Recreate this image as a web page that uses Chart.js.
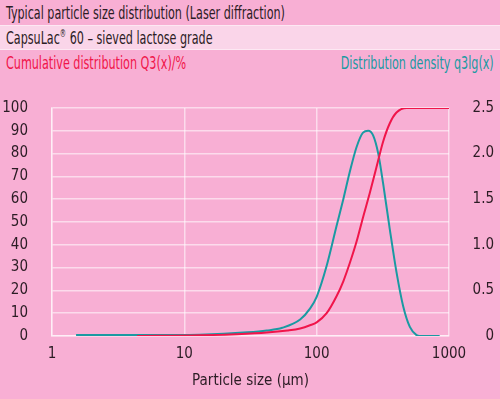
<!DOCTYPE html>
<html>
<head>
<meta charset="utf-8">
<script src="https://cdn.jsdelivr.net/npm/chart.js@4"></script>
<style>
  body { margin: 0; background: #f8afd4; width: 500px; height: 399px; overflow: hidden;
         font-family: "DejaVu Sans Condensed", "Liberation Sans Narrow", sans-serif; color: #2b1c24; }
  .row { position: absolute; left: 0; width: 500px; box-sizing: border-box; padding-left: 6px; font-size: 18px; white-space: nowrap; }
  .row span { display: inline-block; transform: scaleX(0.69); transform-origin: left center; }
  #r1 { top: 0; height: 25px; line-height: 26px; }
  #r2 { top: 25px; height: 25px; line-height: 24px; background: #fad5e9; border-top: 1px solid #fde8f3; border-bottom: 1px solid #fde8f3; }
  #r3 { top: 50px; height: 25px; line-height: 26px; }
  #r3 .l { color: #f0154a; }
  #r3 .r { color: #1a9aa2; position: absolute; right: 6px; top: 0; transform-origin: right center; }
  sup { font-size: 10px; vertical-align: 7px; line-height: 0; }
  #chart { position: absolute; left: 0; top: 75px; }
</style>
</head>
<body>
<div class="row" id="r1"><span>Typical particle size distribution (Laser diffraction)</span></div>
<div class="row" id="r2"><span>CapsuLac<sup>®</sup> 60 – sieved lactose grade</span></div>
<div class="row" id="r3"><span class="l">Cumulative distribution Q3(x)/%</span><span class="r">Distribution density q3lg(x)</span></div>
<canvas id="chart" width="500" height="324"></canvas>
<script>
// particle size (µm) and curve values
const cumulativeSizes = [4.4, 13, 25, 42, 60, 75, 89, 100, 119, 141, 159, 178, 200, 224, 252, 283, 318, 357, 401, 478, 1000];
const cumulativeValues = [0, 0.3, 0.8, 1.5, 2.4, 3.3, 4.7, 6, 10, 17.3, 24, 32, 41.3, 52, 62.7, 74, 85.3, 93.3, 98, 100, 100];

const densitySizes = [1.52, 5, 13, 30, 42, 55, 75, 89, 100, 119, 141, 159, 178, 200, 224, 245, 267, 292, 318, 357, 401, 450, 506, 568, 600, 850];
const densityValues = [0.01, 0.01, 0.015, 0.04, 0.06, 0.09, 0.18, 0.3, 0.43, 0.77, 1.2, 1.5, 1.8, 2.07, 2.23, 2.25, 2.2, 2.0, 1.67, 1.17, 0.7, 0.33, 0.1, 0.01, 0, 0];

const xTicks = [1, 10, 100, 1000];
const leftTicks = [0, 10, 20, 30, 40, 50, 60, 70, 80, 90, 100];
const rightTicks = [0, 0.5, 1.0, 1.5, 2.0, 2.5];

Chart.defaults.font.family = '"DejaVu Sans Condensed", "Liberation Sans Narrow", sans-serif';
Chart.defaults.font.size = 15;
Chart.defaults.color = '#2b1c24';

const grid = 'rgba(255,255,255,0.55)';

new Chart(document.getElementById('chart').getContext('2d'), {
  type: 'line',
  data: {
    datasets: [
      {
        label: 'Q3',
        data: cumulativeSizes.map((x, i) => ({ x: x, y: cumulativeValues[i] })),
        borderColor: '#f0154a',
        borderWidth: 2,
        pointRadius: 0,
        cubicInterpolationMode: 'monotone',
        yAxisID: 'y'
      },
      {
        label: 'q3lg',
        data: densitySizes.map((x, i) => ({ x: x, y: densityValues[i] })),
        borderColor: '#1a9aa2',
        borderWidth: 2,
        pointRadius: 0,
        cubicInterpolationMode: 'monotone',
        yAxisID: 'y2'
      }
    ]
  },
  options: {
    responsive: false,
    animation: false,
    layout: { padding: { top: 11, right: 6, left: 0, bottom: 0 } },
    plugins: { legend: { display: false }, tooltip: { enabled: false } },
    scales: {
      x: {
        type: 'logarithmic',
        min: 1,
        max: 1000,
        afterBuildTicks: s => { s.ticks = xTicks.map(v => ({ value: v })); },
        afterFit: s => { s.height = 63; },
        ticks: { callback: v => String(v), padding: 9, maxRotation: 0, autoSkip: false },
        grid: { color: grid, lineWidth: 1.5, drawTicks: false },
        border: { color: grid, width: 1.5 },
        title: { display: true, text: 'Particle size (µm)', padding: { top: 0, bottom: 9 }, font: { size: 15 } }
      },
      y: {
        position: 'left',
        min: 0,
        max: 100,
        afterBuildTicks: s => { s.ticks = leftTicks.map(v => ({ value: v })); },
        afterFit: s => { s.width = 52; },
        ticks: { padding: 24 },
        grid: { color: grid, lineWidth: 1.5, drawTicks: false },
        border: { color: grid, width: 1.5 }
      },
      y2: {
        position: 'right',
        min: 0,
        max: 2.5,
        afterBuildTicks: s => { s.ticks = rightTicks.map(v => ({ value: v })); },
        afterFit: s => { s.width = 45; },
        ticks: { crossAlign: 'far', callback: v => v === 0 ? '0' : v.toFixed(1) },
        grid: { display: false, drawTicks: false },
        border: { display: false }
      }
    }
  }
});
</script>
</body>
</html>
